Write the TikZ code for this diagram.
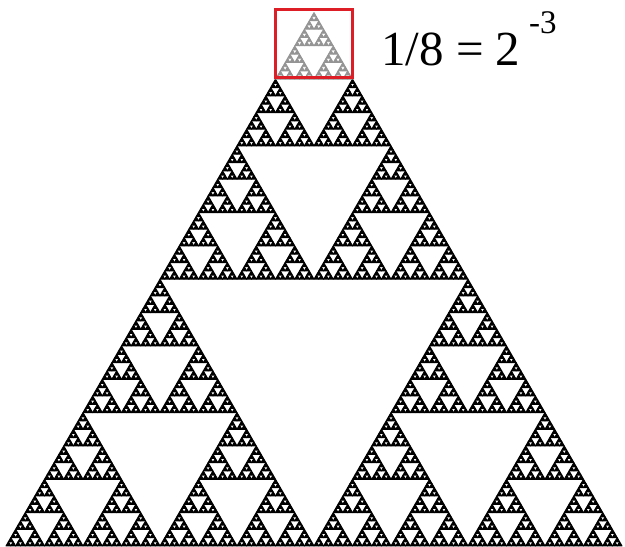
\documentclass[tikz,border=0pt]{standalone}
\usepackage{fontspec}
\setmainfont{Liberation Serif}
\tikzset{
  blk/.style={fill=black,draw=black,line width=1.0pt,line join=round},
  gry/.style={fill=black!42,draw=black!42,line width=0.8pt,line join=round},
  redbox/.style={draw={rgb,255:red,222;green,30;blue,38},line width=3pt},
  eqtext/.style={anchor=base west,inner sep=0pt,font=\fontsize{49}{49}\selectfont},
  suptext/.style={anchor=base west,inner sep=0pt,font=\fontsize{33}{33}\selectfont}
}
\newcommand\sierpT[5]{%
  \ifnum#4=0
    \pgfmathsetmacro\tA{#1-#3/2}\pgfmathsetmacro\tB{#1+#3/2}\pgfmathsetmacro\tYb{#2+#3*0.8660254}%
    \filldraw[#5] (#1,#2) -- (\tA,\tYb) -- (\tB,\tYb) -- cycle;
  \else
    \begingroup
    \pgfmathsetmacro\tS{#3/2}%
    \pgfmathsetmacro\tL{#1-#3/4}%
    \pgfmathsetmacro\tR{#1+#3/4}%
    \pgfmathsetmacro\tY{#2+#3*0.4330127}%
    \pgfmathtruncatemacro\tD{#4-1}%
    \edef\tNext{\noexpand\sierpT{#1}{#2}{\tS}{\tD}{#5}\noexpand\sierpT{\tL}{\tY}{\tS}{\tD}{#5}\noexpand\sierpT{\tR}{\tY}{\tS}{\tD}{#5}}%
    \tNext
    \endgroup
  \fi}
\begin{document}
\begin{tikzpicture}[x=1pt,y=-1pt]
\useasboundingbox (0,0) rectangle (625,547);
% level 1 lower halves
\sierpT{160}{279.24}{308}{6}{blk}
\sierpT{468}{279.24}{308}{6}{blk}
% level 2 lower parts of the top half
\sierpT{237}{145.87}{154}{5}{blk}
\sierpT{391}{145.87}{154}{5}{blk}
% level 3 lower parts of the top quarter
\sierpT{275.5}{79.18}{77}{4}{blk}
\sierpT{352.5}{79.18}{77}{4}{blk}
% top eighth, highlighted
\sierpT{314}{12.5}{77}{4}{gry}
\node[redbox,minimum width=77pt,minimum height=68pt,inner sep=0pt] (box) at (314,43.5) {};
\node[eqtext] (eq) at (381,65) {1/8 = 2};
\node[suptext] (ex) at (529,33) {-3};
\end{tikzpicture}
\end{document}
